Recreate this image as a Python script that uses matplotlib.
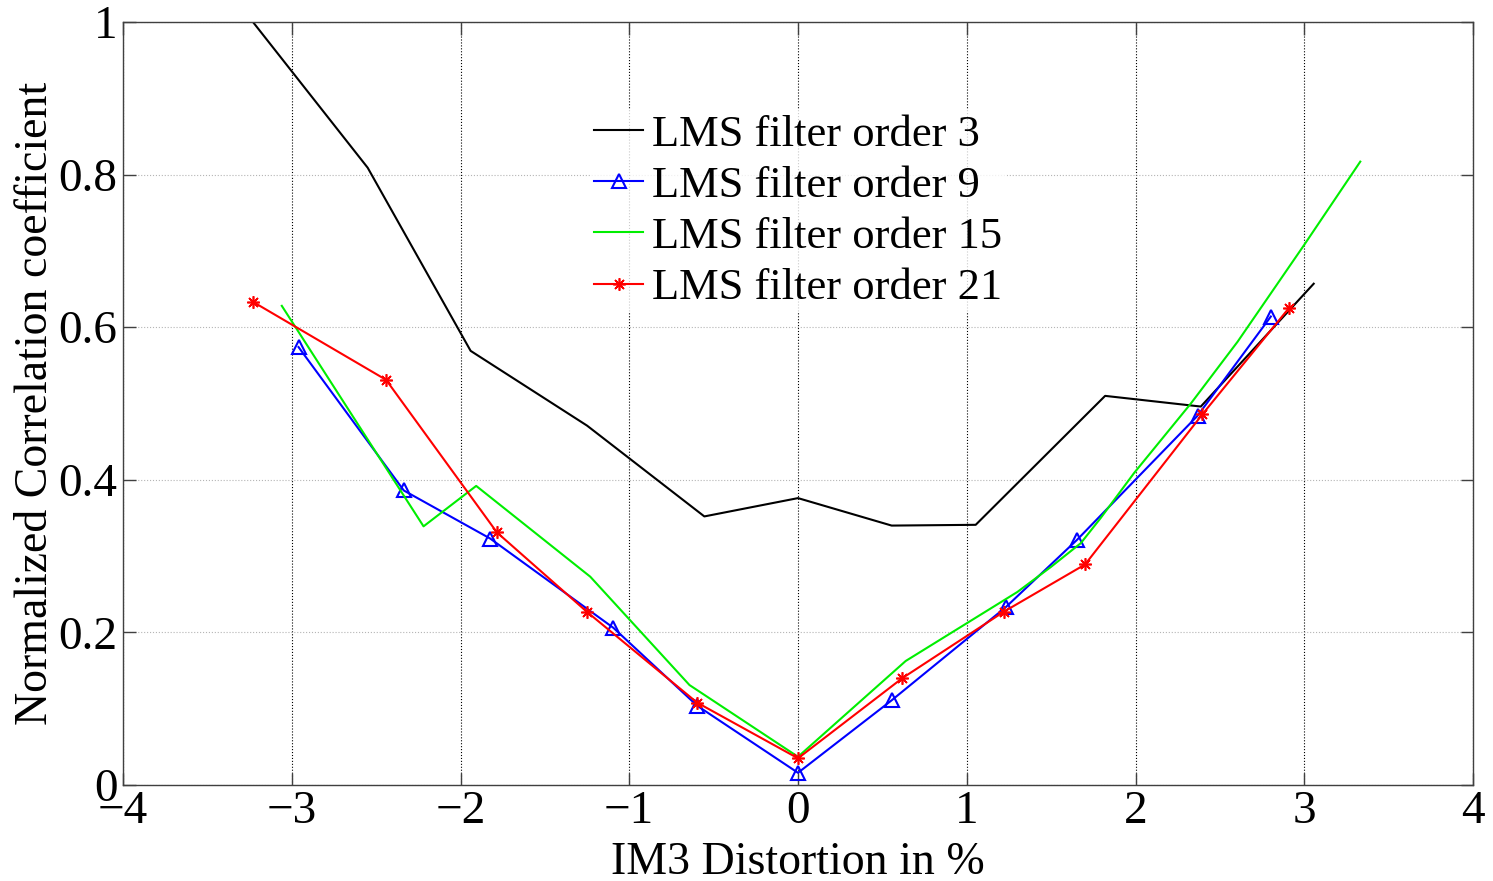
import matplotlib
matplotlib.use('Agg')
import matplotlib.pyplot as plt

plt.rcParams['font.family'] = ['Liberation Serif', 'DejaVu Serif']

# IM3 distortion (%) vs normalized correlation coefficient per LMS filter order
x_ord3 = [-3.23, -2.55, -1.94, -1.25, -0.555, 0.0, 0.555, 1.053, 1.82, 2.387, 3.056]
y_ord3 = [1.0, 0.809, 0.569, 0.471, 0.352, 0.376, 0.340, 0.341, 0.510, 0.496, 0.657]

x_ord9 = [-2.96, -2.336, -1.824, -1.094, -0.598, 0.0, 0.555, 1.231, 1.652, 2.368, 2.802]
y_ord9 = [0.574, 0.386, 0.323, 0.206, 0.104, 0.016, 0.111, 0.233, 0.321, 0.484, 0.614]

x_ord15 = [-3.059, -2.219, -1.907, -1.231, -0.643, 0.0, 0.638, 1.30, 1.50, 1.676,
           1.794, 1.992, 2.328, 2.605, 3.0, 3.332]
y_ord15 = [0.628, 0.339, 0.392, 0.273, 0.131, 0.037, 0.1625, 0.253, 0.286, 0.317,
           0.350, 0.409, 0.500, 0.581, 0.708, 0.817]

x_ord21 = [-3.228, -2.441, -1.784, -1.251, -0.598, 0.0, 0.618, 1.219, 1.701, 2.397, 2.909]
y_ord21 = [0.633, 0.531, 0.331, 0.227, 0.108, 0.035, 0.140, 0.227, 0.289, 0.486, 0.625]

fig = plt.figure(figsize=(14.93, 8.81), dpi=100)
ax = fig.add_axes([123 / 1493, 96 / 881, 1350 / 1493, 763 / 881])

ax.plot(x_ord3, y_ord3, color='k', lw=1.5, label='LMS filter order 3')
ax.plot(x_ord9, y_ord9, color='b', lw=1.5, marker='^', ms=10, mfc='none', mew=1.5,
        label='LMS filter order 9')
ax.plot(x_ord15, y_ord15, color='#00ee00', lw=1.5, label='LMS filter order 15')
ax.plot(x_ord21, y_ord21, color='r', lw=1.5, marker=(8, 2, 0), ms=9, mew=1.2,
        label='LMS filter order 21')

ax.set_xlim(-4, 4)
ax.set_ylim(0, 1)
ax.set_xticks(range(-4, 5))
ax.set_yticks([0, 0.2, 0.4, 0.6, 0.8, 1])
ax.set_yticklabels(['0', '0.2', '0.4', '0.6', '0.8', '1'])

ax.xaxis.grid(True, color='k', ls=':', lw=0.8)
ax.yaxis.grid(True, color='#b5b5b5', ls=':', lw=0.8)
ax.set_axisbelow(True)

for sp in ax.spines.values():
    sp.set_color('#404040')
    sp.set_linewidth(1.0)
ax.tick_params(direction='in', length=9, width=1.0, color='#404040',
               top=True, right=True, labelsize=34, pad=4)
ax.tick_params(axis='x', pad=4)

ax.set_xlabel('IM3 Distortion in %', fontsize=33, labelpad=6)
ax.set_ylabel('Normalized Correlation coefficient', fontsize=33, labelpad=1)

leg = ax.legend(loc='upper left', bbox_to_anchor=(590 / 1493, 1 - 110 / 881),
                bbox_transform=fig.transFigure, fontsize=32, frameon=True,
                handlelength=1.1, handletextpad=0.2, labelspacing=0.25,
                borderpad=0.1, borderaxespad=0)
leg.get_frame().set_facecolor('white')
leg.get_frame().set_edgecolor('none')
leg.get_frame().set_boxstyle('square', pad=0)

fig.savefig('out.png', dpi=100)
